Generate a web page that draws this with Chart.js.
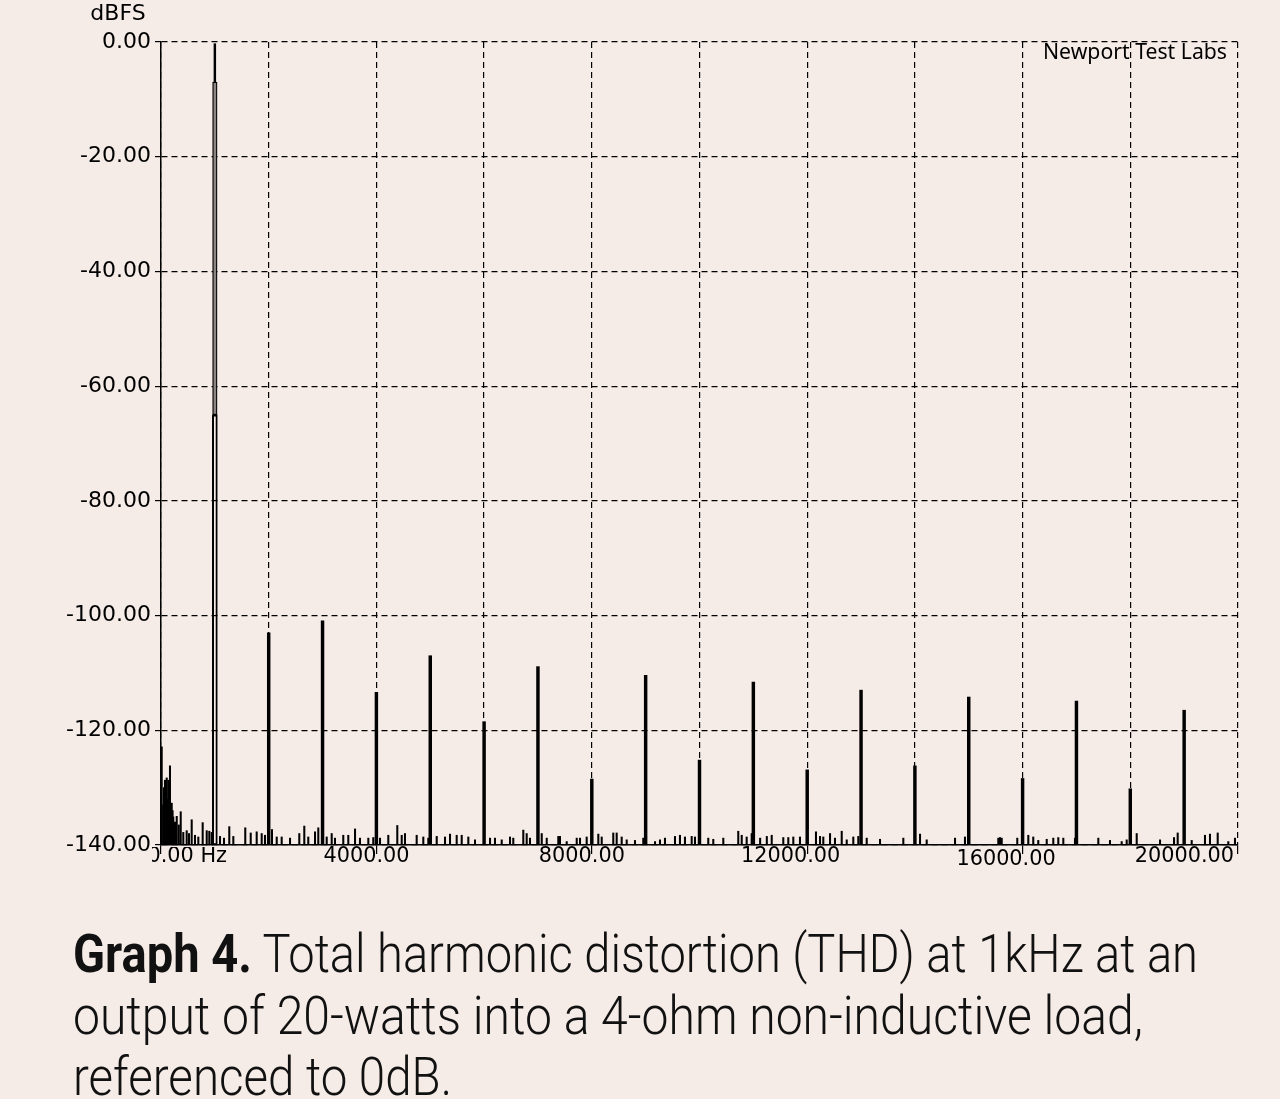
<!DOCTYPE html>
<html><head><meta charset="utf-8">
<script src="https://cdn.jsdelivr.net/npm/chart.js@4"></script>
<style>
html,body{margin:0;padding:0;background:#f6ece7;width:1280px;height:1099px;overflow:hidden;}
#wrap{position:absolute;left:0;top:0;width:1280px;height:900px;}
.cap{position:absolute;left:73px;font-family:Roboto,"Noto Sans";font-weight:300;font-size:53px;line-height:53px;color:#111;white-space:nowrap;transform-origin:0 0;}
.cap b{font-weight:700;}
</style></head><body>
<div id="wrap"><canvas id="c" width="1280" height="900"></canvas></div>
<div class="cap" id="l1" style="top:928px"><b>Graph 4.</b> Total harmonic distortion (THD) at 1kHz at an</div>
<div class="cap" id="l2" style="top:990px">output of 20-watts into a 4-ohm non-inductive load,</div>
<div class="cap" id="l3" style="top:1051px">referenced to 0dB.</div>
<script>
// ---- data ----
const floorDb = -140;
const fundamentalHz = 1000;
const fundamentalPeakDb = -0.3;
const fundamentalShoulderDb = -7;
const fundamentalSkirtDb = -65;

const harmonicHz = [2000, 3000, 4000, 5000, 6000, 7000, 8000, 9000, 10000, 11000, 12000, 13000, 14000, 15000, 16000, 17000, 18000, 19000];
const harmonicDb = [-103.0, -100.9, -113.4, -107.0, -118.5, -108.9, -128.5, -110.4, -125.2, -111.6, -126.9, -113.0, -126.2, -114.2, -128.4, -114.9, -130.2, -116.5];

const noiseHz = [
  13, 40, 55, 74, 90, 106, 120, 136, 150, 167, 185, 199, 215, 228, 260, 292, 330, 366, 414, 477, 520, 570, 631, 693, 774, 849, 897, 941,
  1096, 1170, 1268, 1343, 1565, 1666, 1777, 1870, 1931,
  2061, 2149, 2241, 2396, 2568, 2661, 2735, 2860, 2921,
  3077, 3170, 3231, 3385, 3478, 3603, 3695, 3850, 3942,
  4067, 4221, 4388, 4470, 4531, 4748, 4871, 4964,
  5120, 5274, 5367, 5491, 5584, 5707, 5831,
  6110, 6202, 6327, 6481, 6542, 6728, 6791, 6852,
  7070, 7163, 7378, 7409, 7534, 7720, 7781, 7905,
  8121, 8184, 8399, 8462, 8555, 8648, 8802, 8956,
  9174, 9266, 9359, 9545, 9637, 9730, 9855, 9916,
  10163, 10256, 10442, 10720, 10784, 10876, 10969,
  11126, 11250, 11341, 11556, 11649, 11742, 11866,
  12163, 12238, 12299, 12424, 12516, 12641, 12734, 12856, 12949,
  13105, 13352, 13785,
  14095, 14219, 14745, 14930,
  15549, 15580, 15612, 15901,
  16106, 16198, 16291, 16448, 16570, 16663, 16756, 16973,
  17406, 17623, 17840, 17933,
  18119, 18552, 18812, 18880,
  19140, 19387, 19480, 19623, 19820, 19944
];
const noiseDb = [
  -122.9, -133, -130, -128.7, -131, -128.3, -132, -128.7, -131, -126.2, -133, -132.7, -134, -135.1, -136, -135, -136.5, -134.2, -137.8, -137.5, -138, -135.6, -138.3, -138.6, -136.1, -137.5, -137.6, -137.8,
  -138.5, -138.8, -136.8, -138.5, -137.0, -137.9, -137.7, -138.0, -138.3,
  -137.3, -138.6, -138.6, -138.8, -138.0, -136.7, -138.6, -137.7, -137.0,
  -138.6, -138.0, -138.8, -138.3, -138.3, -137.2, -138.8, -138.8, -138.7,
  -138.8, -138.3, -136.6, -138.3, -138.0, -138.3, -138.6, -138.8,
  -138.5, -138.6, -138.1, -138.3, -138.3, -138.6, -139.1,
  -138.8, -138.8, -139.1, -138.6, -138.8, -137.4, -138.0, -138.8,
  -138.0, -138.8, -138.5, -138.5, -139.4, -138.8, -138.8, -138.6,
  -138.1, -138.6, -137.9, -137.9, -138.6, -139.1, -139.2, -138.8,
  -139.4, -139.1, -138.8, -138.5, -138.3, -138.6, -138.5, -138.6,
  -138.8, -139.0, -138.8, -137.6, -138.3, -138.6, -138.0,
  -138.8, -138.5, -138.3, -138.7, -138.7, -138.6, -138.6,
  -137.7, -138.5, -138.6, -138.0, -138.8, -137.6, -139.1, -138.6, -138.5,
  -138.8, -139.0, -138.8,
  -138.1, -139.1, -138.8, -138.6,
  -138.8, -138.7, -138.8, -138.8,
  -138.3, -138.6, -139.2, -139.0, -138.8, -138.7, -138.8, -138.8,
  -138.8, -139.2, -139.4, -139.1,
  -138.0, -139.1, -138.7, -137.9,
  -139.2, -138.3, -138.1, -137.9, -139.4, -138.8
];

const xTickValues = [0, 4000, 8000, 12000, 16000, 20000];
const xTickLabels = ['0.00 Hz', '4000.00', '8000.00', '12000.00', '16000.00', '20000.00'];
const yAxisTitle = 'dBFS';
const watermark = 'Newport Test Labs';

// ---- drawing ----
const textPlugin = {
  id: 'texts',
  afterDraw(chart) {
    const c = chart.ctx, xs = chart.scales.x;
    c.save();
    c.fillStyle = '#000';
    c.font = '22px "DejaVu Sans"';
    c.textAlign = 'center'; c.textBaseline = 'middle';
    c.fillText(yAxisTitle, 118, 14);

    c.font = '22px "Noto Sans"';
    c.textAlign = 'left'; c.textBaseline = 'alphabetic';
    const w = c.measureText(watermark).width;
    c.save(); c.translate(1043, 59); c.scale(184 / w, 1); c.fillText(watermark, 0, 0); c.restore();

    c.font = '20.8px "DejaVu Sans"'; c.textBaseline = 'middle';
    const last = xTickValues.length - 1;
    xTickValues.forEach((v, i) => {
      const px = xs.getPixelForValue(v);
      const t = xTickLabels[i];
      const y = 857 + (i === 4 ? 3 : 0);
      if (i === 0) {
        c.save(); c.beginPath(); c.rect(px - 9, 847, 200, 30); c.clip();
        c.textAlign = 'right'; c.fillText(t, px + 66, y); c.restore();
      } else if (i === last) {
        c.textAlign = 'right'; c.fillText(t, px - 4, y);
      } else {
        c.textAlign = 'left';
        const ip = t.split('.')[0];
        c.fillText(t, px - c.measureText(ip).width, y);
      }
    });
    c.restore();
  }
};

const gridCommon = {
  color: '#000', lineWidth: 1.2, tickWidth: 1.2, tickBorderDash: [], offset: false
};

new Chart(document.getElementById('c'), {
  type: 'bar',
  data: {
    datasets: [
      { label: 'noise', data: noiseHz.map((f, i) => ({ x: f, y: [floorDb, noiseDb[i]] })), backgroundColor: '#000', barThickness: 1.4 },
      { label: 'harmonics', data: harmonicHz.map((f, i) => ({ x: f, y: [floorDb, harmonicDb[i]] })), backgroundColor: '#000', barThickness: 2.8 },
      { label: 'fundamental skirt', data: [{ x: fundamentalHz, y: [floorDb, fundamentalSkirtDb] }], backgroundColor: 'rgba(0,0,0,0)', borderColor: '#000', borderWidth: 1.3, borderSkipped: false, barThickness: 5 },
      { label: 'fundamental body', data: [{ x: fundamentalHz, y: [fundamentalSkirtDb, fundamentalShoulderDb] }], backgroundColor: '#8c8482', borderColor: '#000', borderWidth: 1.3, borderSkipped: false, barThickness: 4.5 },
      { label: 'fundamental tip', data: [{ x: fundamentalHz, y: [fundamentalShoulderDb, fundamentalPeakDb] }], backgroundColor: '#000', barThickness: 1.8 }
    ]
  },
  options: {
    responsive: false, animation: false, devicePixelRatio: 1,
    layout: { padding: { top: 42, right: 42, left: 0, bottom: 15 } },
    plugins: { legend: { display: false }, tooltip: { enabled: false } },
    datasets: { bar: { grouped: false } },
    scales: {
      x: {
        type: 'linear', min: 0, max: 20000, offset: false,
        ticks: { stepSize: 2000, display: false },
        grid: Object.assign({}, gridCommon, {
          tickLength: 9,
          tickColor: c => (c.tick && c.tick.value % 4000 === 0) ? '#000' : 'rgba(0,0,0,0)'
        }),
        border: { display: true, color: '#000', width: 1.5, dash: [6, 4] },
        afterFit: s => { s.height = 40; }
      },
      y: {
        type: 'linear', min: -140, max: 0,
        ticks: { stepSize: 20, callback: v => v.toFixed(2), font: { family: 'DejaVu Sans', size: 22 }, color: '#000', padding: 4 },
        grid: Object.assign({}, gridCommon, { tickLength: 6, tickColor: '#000' }),
        border: { display: true, color: '#000', width: 1.5, dash: [6, 4] },
        afterFit: s => { s.width = 161; }
      }
    }
  },
  plugins: [textPlugin]
});

// caption fitting
const capTargets = { l1: 1125, l2: 1070, l3: 379 };
function fitCaption() {
  Object.keys(capTargets).forEach(id => {
    const el = document.getElementById(id);
    el.style.transform = 'none';
    const w = el.getBoundingClientRect().width;
    el.style.transform = 'scaleX(' + (capTargets[id] / w) + ')';
  });
}
fitCaption();
if (document.fonts && document.fonts.ready) document.fonts.ready.then(fitCaption);
</script>
</body></html>
